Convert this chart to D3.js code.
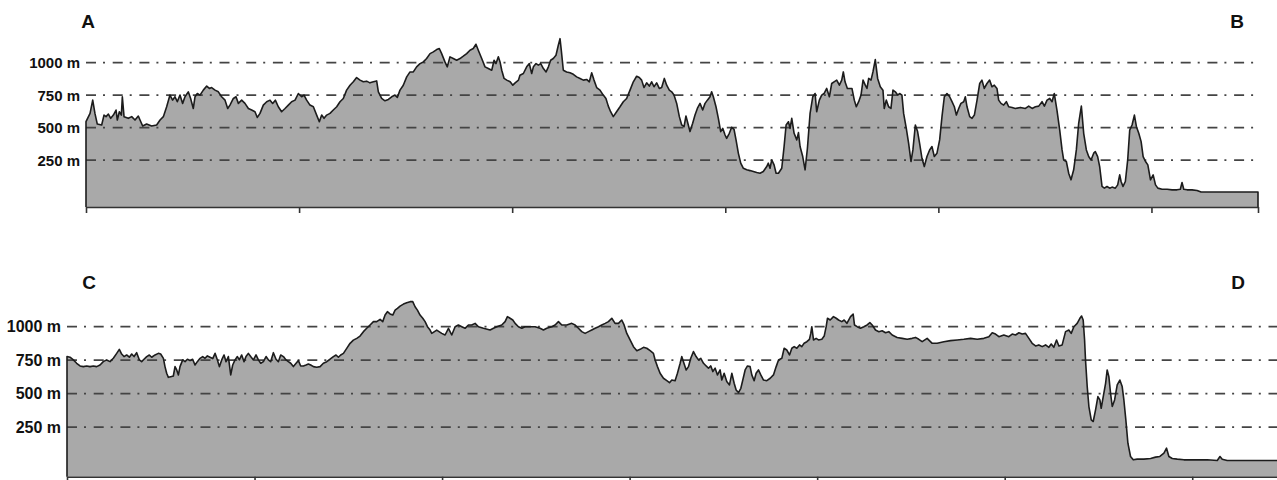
<!DOCTYPE html>
<html>
<head>
<meta charset="utf-8">
<script src="https://cdn.jsdelivr.net/npm/d3@7"></script>
<style>
    body { margin: 0; background: #fff; }
    svg { display: block; font-family: "Liberation Sans", Arial, sans-serif; }
    .elev-label { font-weight: bold; fill: #111; }
    .end-label { font-weight: bold; font-size: 19px; fill: #111; }
    .grid-line { stroke: #444; stroke-width: 1.8; stroke-dasharray: 10, 7, 2, 7.7; }
    .profile-area { fill: #a9a9a9; }
    .profile-line { fill: none; stroke: #1c1c1c; stroke-width: 1.6; stroke-linejoin: round; }
    .axis path, .axis line { stroke: #333; stroke-width: 1.6; }
</style>
</head>
<body>
<div id="chart"></div>
<script>
// route A -> B : distance (km) and elevation (m)
var distAB = [0,0.38,0.63,0.84,1.06,1.47,1.69,1.88,2.10,2.32,2.57,2.82,2.94,3.13,3.32,3.41,3.57,3.97,4.29,4.60,4.91,5.07,5.32,5.69,6.16,6.63,6.95,7.26,7.57,7.88,8.13,8.35,8.57,8.82,9.07,9.29,9.60,9.82,10.07,10.23,10.45,10.70,11.01,11.33,11.58,11.79,12.11,12.42,12.73,13.05,13.30,13.51,13.83,14.08,14.30,14.61,14.92,15.24,15.55,15.86,16.08,16.33,16.64,16.96,17.27,17.52,17.77,18.05,18.36,18.68,18.99,19.30,19.62,19.93,20.24,20.46,20.71,21.02,21.34,21.65,21.90,22.12,22.34,22.59,22.90,23.21,23.53,23.84,24.15,24.46,24.78,25.09,25.40,25.72,26.03,26.34,26.65,26.97,27.28,27.44,27.75,28.06,28.38,28.69,29.00,29.22,29.47,29.78,30.10,30.41,30.72,31.03,31.35,31.66,31.97,32.29,32.60,32.91,33.16,33.38,33.69,33.91,34.16,34.47,34.79,35.10,35.41,35.73,36.04,36.35,36.60,36.82,37.14,37.45,37.76,38.08,38.30,38.48,38.70,38.86,39.02,39.24,39.49,39.81,40.06,40.28,40.59,40.73,41.05,41.36,41.61,41.83,41.99,42.24,42.46,42.68,42.93,43.18,43.40,43.61,43.86,44.11,44.33,44.49,44.61,44.80,45.11,45.43,45.74,46.05,46.37,46.68,46.99,47.24,47.46,47.68,47.93,48.24,48.55,48.80,49.02,49.24,49.49,49.80,50.12,50.43,50.74,51.06,51.37,51.68,51.93,52.15,52.37,52.62,52.87,53.09,53.31,53.56,53.81,54.03,54.28,54.50,54.75,54.97,55.19,55.44,55.69,55.91,56.13,56.31,56.53,56.69,56.94,57.16,57.38,57.63,57.88,58.10,58.32,58.57,58.72,58.88,59.13,59.35,59.57,59.76,59.98,60.13,60.38,60.60,60.82,61.01,61.23,61.45,61.70,62.01,62.32,62.64,62.95,63.26,63.57,63.89,64.04,64.20,64.36,64.58,64.77,64.99,65.30,65.52,65.71,65.93,66.08,66.24,66.46,66.71,66.87,67.02,67.27,67.49,67.71,67.96,68.21,68.43,68.58,68.83,69.05,69.27,69.52,69.77,69.99,70.21,70.46,70.71,70.93,71.08,71.24,71.46,71.89,72.11,72.30,72.52,72.74,72.93,73.14,73.30,73.46,73.68,73.86,74.08,74.30,74.55,74.80,74.92,75.11,75.33,75.55,75.74,75.96,76.18,76.36,76.58,76.74,76.99,77.21,77.43,77.61,77.84,78.05,78.24,78.46,78.68,78.93,79.18,79.40,79.62,79.87,80.12,80.34,80.56,80.81,81.06,81.28,81.50,81.69,81.91,82.12,82.38,82.53,82.69,82.94,83.16,83.38,83.63,83.88,84.09,84.31,84.56,84.81,85.03,85.25,85.50,85.66,85.88,86.13,86.38,86.60,86.92,87.23,87.70,88.17,88.48,88.80,89.11,89.42,89.73,89.95,90.20,90.45,90.67,90.88,91.13,91.39,91.61,91.76,92.01,92.23,92.45,92.70,92.95,93.17,93.42,93.64,93.89,94.11,94.33,94.58,94.73,94.95,95.14,95.36,95.58,95.83,96.08,96.30,96.61,96.83,97.02,97.15,97.33,97.55,97.77,97.96,98.18,98.40,98.59,98.81,99.03,99.22,99.44,99.66,99.91,100.16,100.38,100.60,101.00,101.47,101.94,102.40,102.71,102.87,103.03,103.34,103.81,104.28,104.66,110];
var elevAB = [546,610,712,610,528,521,597,585,605,572,597,636,559,623,597,738,585,572,585,559,590,559,513,528,513,521,559,585,661,751,712,738,700,751,687,738,776,725,648,738,763,751,789,820,802,809,789,776,738,712,648,674,725,738,687,712,687,648,636,623,579,610,674,700,712,687,712,661,623,648,674,700,712,763,738,751,712,674,661,597,546,597,572,597,610,636,661,700,725,789,827,853,886,866,853,858,845,853,860,776,725,707,717,738,751,733,789,827,891,929,929,968,993,1006,1032,1070,1083,1101,1109,1070,1006,968,1045,1032,1019,1032,1050,1070,1096,1109,1142,1096,1032,968,955,942,1019,993,1045,1006,942,879,866,853,827,845,866,904,917,968,993,917,968,993,981,993,955,929,968,1019,1032,1057,1134,1185,1096,942,929,922,911,891,879,866,871,853,922,866,809,789,751,725,666,623,585,623,661,700,725,789,853,896,886,866,809,845,820,853,815,845,802,809,879,827,789,776,751,687,585,521,508,590,521,470,534,597,648,687,636,687,712,738,776,738,661,572,470,495,444,418,457,503,488,406,303,227,188,176,170,163,155,150,163,201,227,188,252,214,150,150,188,355,521,546,495,572,457,406,462,355,278,176,342,610,738,763,623,712,751,763,802,738,840,853,866,827,866,929,853,802,802,712,661,700,751,866,827,802,879,866,929,1024,879,815,789,648,712,661,648,789,776,751,763,751,610,495,380,240,329,521,470,380,265,201,278,329,355,278,304,406,585,738,763,738,700,661,597,648,687,700,738,661,585,572,597,712,840,866,802,840,866,815,827,802,712,687,674,700,661,656,648,656,648,666,648,661,666,700,666,712,725,700,763,636,482,329,252,240,150,99,176,329,534,666,457,329,278,252,304,316,278,201,48,35,48,35,43,35,60,137,86,48,86,252,482,521,597,508,457,393,278,240,214,99,137,60,35,27,27,22,22,27,78,27,22,22,17,5,5];

// route C -> D : distance (km) and elevation (m)
var distCD = [0,0.32,0.68,1.03,1.39,1.74,2.10,2.45,2.81,3.16,3.52,3.87,4.23,4.59,4.94,5.30,5.58,5.83,6.08,6.36,6.65,6.90,7.15,7.43,7.72,7.96,8.21,8.50,8.78,9.03,9.39,9.74,9.99,10.28,10.45,10.63,10.81,11.06,11.34,11.52,11.70,11.88,12.05,12.34,12.59,12.84,13.12,13.40,13.65,13.90,14.19,14.47,14.72,14.97,15.25,15.54,15.79,16.04,16.25,16.50,16.75,16.96,17.21,17.46,17.67,17.92,18.17,18.38,18.63,18.88,19.09,19.34,19.59,19.88,20.16,20.41,20.66,20.94,21.23,21.48,21.72,22.01,22.29,22.54,22.79,23.08,23.36,23.61,23.86,24.14,24.43,24.68,24.92,25.21,25.49,25.74,25.99,26.28,26.63,26.99,27.34,27.70,28.05,28.41,28.69,28.94,29.19,29.48,29.83,30.19,30.54,30.90,31.25,31.61,31.96,32.32,32.68,33.03,33.39,33.67,33.92,34.17,34.45,34.74,34.99,35.24,35.52,35.88,36.23,36.59,36.87,37.12,37.37,37.65,37.94,38.19,38.44,38.72,38.90,39.43,39.96,40.32,40.68,41.03,41.39,41.74,42.10,42.45,42.81,43.16,43.52,43.88,44.41,45.12,45.48,45.83,46.36,46.72,46.97,47.25,47.54,47.79,48.14,48.50,48.85,49.39,49.92,50.45,50.81,51.16,51.70,52.05,52.41,52.77,53.30,53.83,54.19,54.54,54.90,55.25,55.61,55.96,56.32,56.68,57.03,57.39,57.74,58.10,58.45,58.81,59.16,59.41,59.70,60.05,60.41,60.77,61.12,61.48,61.83,62.19,62.54,62.72,62.97,63.25,63.61,63.97,64.25,64.50,64.85,65.10,65.39,65.56,65.74,66.03,66.28,66.52,66.81,67.09,67.34,67.59,67.88,68.16,68.41,68.66,68.87,69.12,69.37,69.65,69.83,70.08,70.36,70.65,70.90,71.15,71.36,71.61,71.86,72.07,72.32,72.57,72.85,73.03,73.28,73.49,73.74,73.99,74.28,74.63,74.99,75.34,75.63,75.88,76.23,76.48,76.76,77.05,77.30,77.55,77.83,78.12,78.36,78.61,78.90,79.18,79.32,79.43,79.61,79.89,80.14,80.50,80.75,80.96,81.10,81.39,81.74,82.03,82.28,82.63,82.88,83.17,83.56,83.84,83.98,84.27,84.62,84.98,85.33,85.62,85.87,86.22,86.58,86.93,87.29,87.64,88.00,88.53,89.07,89.60,90.13,90.49,90.84,91.20,91.73,92.27,92.80,93.51,94.22,94.93,95.64,96.36,97.07,97.78,98.31,98.67,99.02,99.38,99.91,100.44,100.80,101.16,101.51,101.87,102.22,102.58,102.93,103.29,103.64,104.00,104.36,104.71,104.96,105.24,105.53,105.78,106.13,106.49,106.84,107.09,107.38,107.73,108.02,108.20,108.37,108.52,108.62,108.80,108.98,109.23,109.44,109.69,109.94,110.15,110.29,110.51,110.76,110.93,111.11,111.29,111.47,111.72,112.00,112.28,112.53,112.71,112.92,113.14,113.42,113.71,114.13,114.84,115.56,116.09,116.55,116.98,117.26,117.51,117.87,118.40,119.11,120.18,121.60,122.67,122.96,123.20,123.73,125.87,130];
var elevCD = [777,772,752,727,707,702,707,702,707,702,714,739,752,739,764,801,831,796,777,789,772,796,777,806,752,739,757,777,789,772,789,801,796,764,702,652,622,627,632,702,677,640,702,752,739,757,747,757,714,739,764,777,764,782,772,762,801,752,702,752,789,739,777,640,714,752,777,752,789,739,777,801,777,752,789,752,727,739,777,752,739,806,757,739,789,777,752,739,727,702,727,747,707,707,714,722,714,702,697,702,727,739,757,777,789,772,789,801,838,876,900,913,930,963,988,1013,1038,1038,1055,1038,1087,1112,1095,1087,1124,1137,1154,1169,1179,1187,1187,1149,1124,1087,1063,1038,1000,975,950,975,950,938,988,938,1000,1013,1000,988,1013,1013,1025,1000,988,975,988,1000,1013,1038,1075,1063,1050,1025,1000,988,1000,1000,1000,988,975,988,1000,1013,1038,1013,1013,1025,1013,988,963,950,963,975,988,1000,1013,1025,1038,1063,1025,1025,1050,1013,950,901,851,821,831,846,839,821,801,751,702,652,615,597,582,602,597,652,727,777,739,677,702,764,814,777,752,764,727,707,690,707,665,690,640,677,602,652,590,565,652,578,528,508,540,602,677,707,702,640,597,652,677,640,602,597,615,640,702,751,764,839,826,789,839,851,839,864,851,876,888,906,950,1000,901,913,901,906,930,1000,1063,1050,1075,1063,1050,1038,1050,1025,1075,1094,1013,1000,988,1000,1013,1030,1013,975,963,970,955,963,938,920,913,906,913,920,906,888,913,876,876,888,896,901,906,913,906,913,925,955,945,925,938,925,945,938,955,945,950,913,876,856,864,851,864,846,871,846,901,856,864,963,975,950,1000,1025,1063,1080,1050,901,751,553,404,304,292,379,478,453,391,478,577,677,627,503,404,453,565,602,553,453,304,130,31,6,11,11,16,26,31,56,93,31,16,11,6,6,6,1,31,11,1,1,1];

var gridLevels = [250, 500, 750, 1000];
var tickKmAB = [0, 20, 40, 60, 80, 100, 110];
var tickKmCD = [0, 20, 40, 60, 80, 100, 120, 130];
var endLabelsAB = ["A", "B"];
var endLabelsCD = ["C", "D"];

var width = 1277, height = 480;

var svg = d3.select("#chart").append("svg")
    .attr("width", width)
    .attr("height", height);

function drawProfile(cfg) {
    var g = svg.append("g").classed("profile", true);

    var data = cfg.dist.map(function(d, i) { return {km: d, m: cfg.elev[i]}; });

    var x = d3.scaleLinear().domain(cfg.xDomain).range(cfg.xRange);
    var y = d3.scaleLinear().domain(cfg.yDomain).range(cfg.yRange);

    var area = d3.area()
        .x(function(d) { return x(d.km); })
        .y0(y(cfg.yDomain[0]))
        .y1(function(d) { return y(d.m); });

    var line = d3.line()
        .x(function(d) { return x(d.km); })
        .y(function(d) { return y(d.m); });

    g.append("path")
        .datum(data)
        .classed("profile-area", true)
        .attr("d", area);

    // dash-dot elevation lines
    g.selectAll(".grid-line")
        .data(gridLevels)
        .enter()
        .append("line")
            .classed("grid-line", true)
            .attr("x1", x(cfg.xDomain[0]))
            .attr("x2", cfg.gridEnd)
            .attr("y1", function(d) { return y(d); })
            .attr("y2", function(d) { return y(d); });

    // outline incl. the two vertical ends
    var first = data[0], last = data[data.length - 1];
    var outline = [{km: first.km, m: cfg.yDomain[0]}].concat(data, [{km: last.km, m: cfg.yDomain[0]}]);
    g.append("path")
        .datum(outline)
        .classed("profile-line", true)
        .attr("d", line);

    g.append("g")
        .classed("axis", true)
        .attr("transform", "translate(0," + y(cfg.yDomain[0]) + ")")
        .call(d3.axisBottom(x).tickValues(cfg.ticks).tickSizeInner(6).tickSizeOuter(0).tickFormat(""));

    g.selectAll(".elev-label")
        .data(gridLevels)
        .enter()
        .append("text")
            .classed("elev-label", true)
            .attr("x", cfg.labelRight)
            .attr("y", function(d) { return y(d); })
            .attr("dy", "0.36em")
            .attr("text-anchor", "end")
            .style("font-size", cfg.labelSize + "px")
            .text(function(d) { return d + " m"; });

    g.selectAll(".end-label")
        .data(cfg.ends)
        .enter()
        .append("text")
            .classed("end-label", true)
            .attr("x", function(d, i) { return cfg.endX[i]; })
            .attr("y", cfg.endY)
            .attr("text-anchor", "middle")
            .text(function(d) { return d; });
}

drawProfile({
    dist: distAB, elev: elevAB,
    xDomain: [0, 110], xRange: [86, 1258],
    yDomain: [-110, 1000], yRange: [207, 62.7],
    gridEnd: 1254, ticks: tickKmAB,
    labelRight: 80, labelSize: 15,
    ends: endLabelsAB, endX: [88, 1237], endY: 27.5
});

drawProfile({
    dist: distCD, elev: elevCD,
    xDomain: [0, 130], xRange: [67, 1286],
    yDomain: [-120, 1000], yRange: [476.7, 326.7],
    gridEnd: 1290, ticks: tickKmCD,
    labelRight: 61, labelSize: 16,
    ends: endLabelsCD, endX: [89, 1238], endY: 288.5
});
</script>
</body>
</html>
